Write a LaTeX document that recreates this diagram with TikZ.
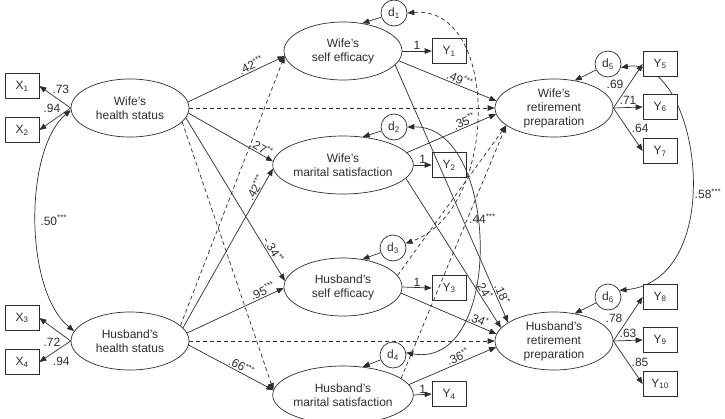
\documentclass[tikz,border=0pt]{standalone}
\usepackage{fontspec}
\setmainfont{Liberation Sans}
\usetikzlibrary{arrows.meta,shapes.geometric,backgrounds}
\definecolor{ink}{RGB}{45,45,45}
\begin{document}
\begin{tikzpicture}[x=1pt,y=-1pt,
  font=\fontsize{12}{14}\selectfont,
  lat/.style={ellipse,draw=ink,line width=0.7pt,minimum width=118pt,minimum height=58pt,inner sep=0pt,align=center,text=ink},
  obs/.style={rectangle,draw=ink,fill=white,line width=0.7pt,minimum width=34pt,minimum height=25pt,inner sep=0pt,text=ink},
  dist/.style={circle,draw=ink,line width=0.7pt,minimum size=26pt,inner sep=0pt,text=ink},
  mytip/.tip={Triangle[length=7pt,width=5.5pt]},
  arr/.style={draw=ink,line width=0.7pt,-mytip},
  dpath/.style={arr,dash pattern=on 4pt off 3pt},
  both/.style={draw=ink,line width=0.7pt,mytip-mytip},
  dboth/.style={both,dash pattern=on 4pt off 3pt},
  lab/.style={text=ink,inner sep=1pt},
]
\useasboundingbox (0,0) rectangle (725,418);

% observed indicators
\node[obs] (X1) at (22,86) {X\textsubscript{1}};
\node[obs] (X2) at (22,130) {X\textsubscript{2}};
\node[obs] (X3) at (22,318) {X\textsubscript{3}};
\node[obs] (X4) at (22,362) {X\textsubscript{4}};
\node[obs] (Y1) at (449,51) {Y\textsubscript{1}};
\node[obs] (Y2) at (449,165) {Y\textsubscript{2}};
\node[obs] (Y3) at (449,288) {Y\textsubscript{3}};
\node[obs] (Y4) at (449,394) {Y\textsubscript{4}};
\node[obs] (Y5) at (660,64) {Y\textsubscript{5}};
\node[obs] (Y6) at (660,107) {Y\textsubscript{6}};
\node[obs] (Y7) at (660,151) {Y\textsubscript{7}};
\node[obs] (Y8) at (660,297) {Y\textsubscript{8}};
\node[obs] (Y9) at (660,340) {Y\textsubscript{9}};
\node[obs] (Y10) at (660,384) {Y\textsubscript{10}};

% latent variables
\node[lat] (WH) at (130,108) {Wife's\\health status};
\node[lat] (HH) at (130,341) {Husband's\\health status};
\node[lat] (WSE) at (343,51) {Wife's\\self efficacy};
\node[lat] (WMS) at (343,165) {Wife's\\marital satisfaction};
\node[lat] (HSE) at (343,287) {Husband's\\self efficacy};
\node[lat] (HMS) at (343,395) {Husband's\\marital satisfaction};
\node[lat] (WRP) at (554,108) {Wife's\\retirement\\preparation};
\node[lat] (HRP) at (554,341) {Husband's\\retirement\\preparation};

% disturbances
\node[dist] (d1) at (394,13) {d\textsubscript{1}};
\node[dist] (d2) at (394,127) {d\textsubscript{2}};
\node[dist] (d3) at (393,248) {d\textsubscript{3}};
\node[dist] (d4) at (393,355) {d\textsubscript{4}};
\node[dist] (d5) at (608,64) {d\textsubscript{5}};
\node[dist] (d6) at (608,297) {d\textsubscript{6}};

% left loadings
\draw[arr] (WH.west) -- (X1.east) node[lab,pos=0.25,xshift=-2pt,yshift=13.5pt]{.73};
\draw[arr] (WH.west) -- (X2.east) node[lab,pos=0.6,yshift=13pt]{.94};
\draw[arr] (HH.west) -- (X3.east) node[lab,pos=0.6,yshift=-15pt]{.72};
\draw[arr] (HH.west) -- (X4.east) node[lab,pos=0.3,yshift=-13.7pt]{.94};

% health correlation
\draw[both] (WH.182) .. controls (24,150) and (24,290) .. (HH.170)
  node[lab,pos=0.5,anchor=west,xshift=3pt]{.50\textsuperscript{***}};

% health -> mediators / outcomes
\draw[arr] (WH.6) -- (WSE.185) node[lab,sloped,above,pos=0.68]{.42\textsuperscript{***}};
\draw[dpath] (WH.east) -- (WRP.west);
\draw[arr] (WH.-5) -- (WMS.177) node[lab,sloped,above,pos=0.83]{.27\textsuperscript{**}};
\draw[arr] (WH.-10) -- (HSE.174) node[lab,sloped,above,pos=0.83]{-.34\textsuperscript{**}};
\draw[dpath] (WH.-15) -- (HMS.176);
\draw[dpath] (HH.17) -- (WSE.185);
\draw[arr] (HH.14) -- (WMS.183) node[lab,sloped,above,pos=0.86]{.42\textsuperscript{***}};
\draw[arr] (HH.8) -- (HSE.181) node[lab,sloped,above,pos=0.81]{.95\textsuperscript{***}};
\draw[dpath] (HH.east) -- (HRP.west);
\draw[arr] (HH.-4) -- (HMS.176) node[lab,sloped,above,pos=0.59]{.66\textsuperscript{***}};

% mediators -> indicators
\draw[arr] (WSE.east) -- (Y1.west) node[lab,above,midway]{1};
\draw[arr] (WMS.east) -- (Y2.west) node[lab,above,midway]{1};
\draw[arr] (HSE.east) -- (Y3.west) node[lab,above,midway]{1};
\draw[arr] (HMS.east) -- (Y4.west) node[lab,above,midway]{1};

% mediators -> outcomes
\draw[arr] (WSE.-10) -- (WRP.173) node[lab,sloped,above,pos=0.6]{.49\textsuperscript{***}};
\draw[arr] (WSE.-15) -- (HRP.158) node[lab,sloped,above,pos=0.9]{.18\textsuperscript{*}};
\draw[arr] (WMS.11) -- (WRP.186) node[lab,sloped,above,pos=0.67]{.35\textsuperscript{**}};
\draw[arr] (WMS.-12) -- (HRP.166) node[lab,sloped,above,pos=0.77]{.24\textsuperscript{*}};
\draw[dpath] (HSE.12) -- (WRP.200);
\draw[arr] (HSE.-6) -- (HRP.173) node[lab,sloped,above,pos=0.79]{.34\textsuperscript{*}};
\draw[dpath] (HMS.16) -- (WRP.200);
\draw[arr] (HMS.9) -- (HRP.186) node[lab,sloped,above,pos=0.59]{.36\textsuperscript{**}};

% disturbances -> latents
\draw[arr] (d1) -- (WSE.55);
\draw[arr] (d2) -- (WMS.55);
\draw[arr] (d3) -- (HSE.55);
\draw[arr] (d4) -- (HMS.55);
\draw[arr] (d5) -- (WRP.53);
\draw[arr] (d6) -- (HRP.53);

% disturbance correlations
\draw[dboth] (d1.east) .. controls (500,5) and (500,210) .. (d3.20);
\draw[both] (d2.east) .. controls (500,125) and (505,370) .. (d4.10)
  node[lab,pos=0.4,xshift=7pt,yshift=-8pt]{.44\textsuperscript{***}};
\begin{scope}[on background layer]
\draw[both] (d5.-15) .. controls (700,55) and (730,280) .. (d6.30)
  node[lab,pos=0.57,anchor=west,xshift=2pt]{.58\textsuperscript{***}};
\end{scope}

% outcome loadings
\draw[arr] (WRP.east) -- (Y5.west) node[lab,pos=0.5,xshift=-13pt,yshift=2pt]{.69};
\draw[arr] (WRP.east) -- (Y6.west) node[lab,pos=0.5,yshift=7.5pt]{.71};
\draw[arr] (WRP.east) -- (Y7.west) node[lab,pos=0.47,xshift=13pt]{.64};
\draw[arr] (HRP.east) -- (Y8.west) node[lab,pos=0.5,xshift=-14pt,yshift=1pt]{.78};
\draw[arr] (HRP.east) -- (Y9.west) node[lab,pos=0.5,yshift=7.5pt]{.63};
\draw[arr] (HRP.east) -- (Y10.west) node[lab,pos=0.5,xshift=12pt]{.85};
\end{tikzpicture}
\end{document}
